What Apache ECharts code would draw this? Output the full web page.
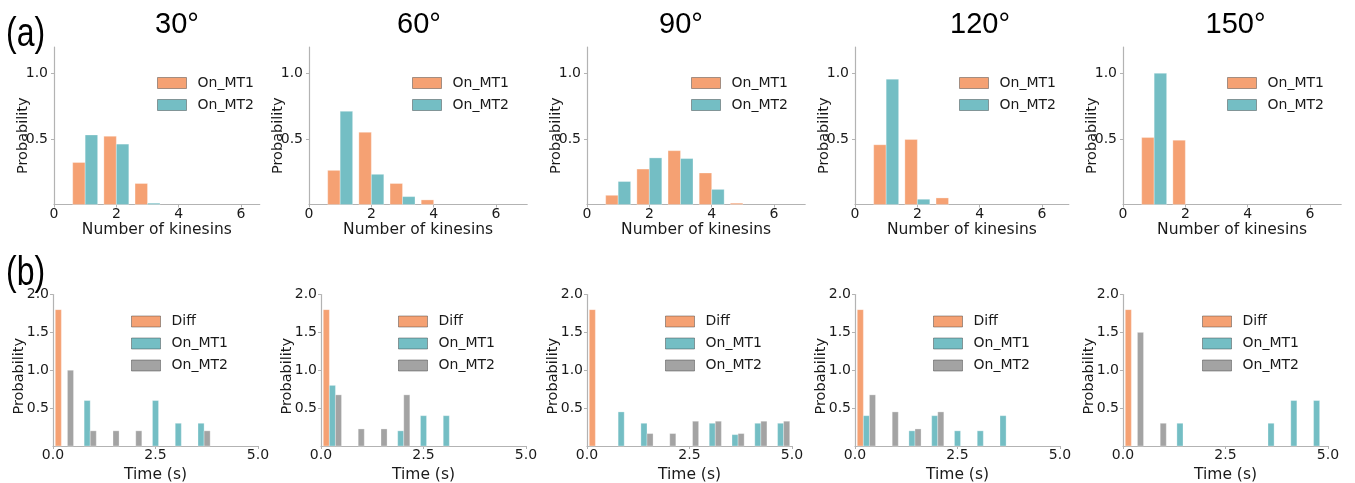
<!DOCTYPE html>
<html><head><meta charset="utf-8">
<script src="https://cdn.jsdelivr.net/npm/echarts@6/dist/echarts.min.js"></script>
<style>html,body{margin:0;padding:0;background:#fff}#c{width:1355px;height:483px}</style>
</head><body><div id="c"></div>
<script>
// ---------------- DATA ----------------
const angleTitles = ['30°', '60°', '90°', '120°', '150°'];
const kinesinCounts = [1, 2, 3, 4, 5, 6];
const kin30_MT1  = [0.32, 0.52, 0.16, 0, 0, 0];
const kin30_MT2  = [0.53, 0.46, 0.01, 0, 0, 0];
const kin60_MT1  = [0.26, 0.55, 0.16, 0.035, 0, 0];
const kin60_MT2  = [0.71, 0.23, 0.06, 0, 0, 0];
const kin90_MT1  = [0.07, 0.27, 0.41, 0.24, 0.01, 0];
const kin90_MT2  = [0.175, 0.355, 0.35, 0.115, 0, 0];
const kin120_MT1 = [0.455, 0.495, 0.05, 0, 0, 0];
const kin120_MT2 = [0.955, 0.04, 0, 0, 0, 0];
const kin150_MT1 = [0.51, 0.49, 0, 0, 0, 0];
const kin150_MT2 = [1.0, 0, 0, 0, 0, 0];

const timeBinEdges = [0, 0.556, 1.111, 1.667, 2.222, 2.778, 3.333, 3.889, 4.444, 5.0];
const t30_Diff  = [1.8, 0, 0, 0, 0, 0, 0, 0, 0];
const t30_MT1   = [0, 0.6, 0, 0, 0.6, 0.3, 0.3, 0, 0];
const t30_MT2   = [1.0, 0.2, 0.2, 0.2, 0, 0, 0.2, 0, 0];
const t60_Diff  = [1.8, 0, 0, 0, 0, 0, 0, 0, 0];
const t60_MT1   = [0.8, 0, 0, 0.2, 0.4, 0.4, 0, 0, 0];
const t60_MT2   = [0.675, 0.225, 0.225, 0.675, 0, 0, 0, 0, 0];
const t90_Diff  = [1.8, 0, 0, 0, 0, 0, 0, 0, 0];
const t90_MT1   = [0, 0.45, 0.3, 0, 0, 0.3, 0.15, 0.3, 0.3];
const t90_MT2   = [0, 0, 0.164, 0.164, 0.327, 0.327, 0.164, 0.327, 0.327];
const t120_Diff = [1.8, 0, 0, 0, 0, 0, 0, 0, 0];
const t120_MT1  = [0.4, 0, 0.2, 0.4, 0.2, 0.2, 0.4, 0, 0];
const t120_MT2  = [0.675, 0.45, 0.225, 0.45, 0, 0, 0, 0, 0];
const t150_Diff = [1.8, 0, 0, 0, 0, 0, 0, 0, 0];
const t150_MT1  = [0, 0, 0.3, 0, 0, 0, 0.3, 0.6, 0.6];
const t150_MT2  = [1.5, 0.3, 0, 0, 0, 0, 0, 0, 0];

const topXTicks = [0, 2, 4, 6];
const topYTicks = [0.5, 1.0];
const botXTicks = [0, 2.5, 5];
const botYTicks = [0.5, 1.0, 1.5, 2.0];

// ---------------- LAYOUT / STYLE ----------------
const C_OR = '#F5A173', C_TE = '#74BEC4', C_GR = '#A3A3A3';
const AX = '#b3b3b3', TXT = '#1a1a1a';
const FONT = 'DejaVu Sans';
const topData = [[kin30_MT1, kin30_MT2], [kin60_MT1, kin60_MT2], [kin90_MT1, kin90_MT2],
                 [kin120_MT1, kin120_MT2], [kin150_MT1, kin150_MT2]];
const botData = [[t30_Diff, t30_MT1, t30_MT2], [t60_Diff, t60_MT1, t60_MT2], [t90_Diff, t90_MT1, t90_MT2],
                 [t120_Diff, t120_MT1, t120_MT2], [t150_Diff, t150_MT1, t150_MT2]];

const topLeft = [54, 309, 587, 855, 1123];
const topXMax = [6.6, 7, 7, 6.86, 7];
const unitPx = 31.17;
const topTop = 47, topH = 157.5;
const botLeft = [53, 321, 587, 855, 1123];
const botW = 205, botTop = 294.5, botH = 151.5;
const titleX = [177, 419, 681, 980, 1235.5];
const topLegL = [157, 412, 691, 959, 1227];
const botLegL = [131, 398, 665, 933, 1202];
const kinBarW = 0.4;      // data units
const histRW = 0.8;       // matplotlib rwidth

function rectRender(color) {
  return function (params, api) {
    const a = api.coord([api.value(0), api.value(2)]);
    const b = api.coord([api.value(1), 0]);
    return { type: 'rect', shape: { x: a[0], y: a[1], width: b[0] - a[0], height: b[1] - a[1] },
      style: { fill: color, stroke: 'rgba(255,255,255,0.6)', lineWidth: 0.5 } };
  };
}

const grid = [], xAxis = [], yAxis = [], series = [], legend = [], graphic = [];

function axisCommon() {
  return {
    axisLine: { show: true, lineStyle: { color: AX, width: 1.2 } },
    splitLine: { show: false }
  };
}
const xNameStyle = { fontFamily: FONT, fontSize: 15.5, color: TXT };

// Top row
for (let i = 0; i < 5; i++) {
  const gi = grid.length;
  grid.push({ left: topLeft[i], top: topTop, width: topXMax[i] * unitPx, height: topH, containLabel: false, outerBoundsMode: 'none' });
  xAxis.push(Object.assign(axisCommon(), {
    type: 'value', gridIndex: gi, min: 0, max: topXMax[i],
    name: 'Number of kinesins', nameLocation: 'middle', nameGap: 14, nameTextStyle: xNameStyle,
    axisLabel: { customValues: topXTicks, margin: 3, fontFamily: FONT, fontSize: 14, color: TXT, formatter: v => String(v) },
    axisTick: { show: true, customValues: topXTicks, length: 3, lineStyle: { color: AX } }
  }));
  yAxis.push(Object.assign(axisCommon(), {
    type: 'value', gridIndex: gi, min: 0, max: 1.2,
    name: 'Probability', nameLocation: 'middle', nameGap: 23.5, nameRotate: 90, nameMoveOverlap: false,
    nameTextStyle: { fontFamily: FONT, fontSize: 14.5, color: TXT, padding: [0, 20, 0, 0] },
    axisLabel: { customValues: topYTicks, margin: 6, fontFamily: FONT, fontSize: 14, color: TXT, formatter: v => v.toFixed(1) },
    axisTick: { show: true, customValues: topYTicks, length: 3, lineStyle: { color: AX } }
  }));
  const [m1, m2] = topData[i];
  const d1 = [], d2 = [];
  kinesinCounts.forEach((k, j) => {
    if (m1[j] > 0) d1.push([k - kinBarW, k, m1[j]]);
    if (m2[j] > 0) d2.push([k, k + kinBarW, m2[j]]);
  });
  series.push({ type: 'custom', name: 'On_MT1', xAxisIndex: gi, yAxisIndex: gi, data: d1, encode: { x: [0, 1], y: 2 },
    itemStyle: { color: C_OR }, renderItem: rectRender(C_OR), silent: true });
  series.push({ type: 'custom', name: 'On_MT2', xAxisIndex: gi, yAxisIndex: gi, data: d2, encode: { x: [0, 1], y: 2 },
    itemStyle: { color: C_TE }, renderItem: rectRender(C_TE), silent: true });
  legend.push({
    orient: 'vertical', left: topLegL[i], top: 76, padding: 0, itemWidth: 29, itemHeight: 11, itemGap: 8,
    icon: 'rect', selectedMode: false,
    itemStyle: { borderColor: 'rgba(60,60,60,0.45)', borderWidth: 1 },
    textStyle: { fontFamily: FONT, fontSize: 14, color: TXT, padding: [0, 0, 0, 6] },
    data: [{ name: 'On_MT1', itemStyle: { color: C_OR } }, { name: 'On_MT2', itemStyle: { color: C_TE } }]
  });
  graphic.push({ type: 'text', x: titleX[i], y: 25, style: { text: angleTitles[i], font: '29px "Liberation Sans"', fill: '#000',
    align: 'center', verticalAlign: 'middle', textAlign: 'center', textVerticalAlign: 'middle' } });
}

// Bottom row
const botColors = [C_OR, C_TE, C_GR];
const botNames = ['Diff', 'On_MT1', 'On_MT2'];
for (let i = 0; i < 5; i++) {
  const gi = grid.length;
  grid.push({ left: botLeft[i], top: botTop, width: botW, height: botH, containLabel: false, outerBoundsMode: 'none' });
  xAxis.push(Object.assign(axisCommon(), {
    type: 'value', gridIndex: gi, min: 0, max: 5,
    name: 'Time (s)', nameLocation: 'middle', nameGap: 21, nameTextStyle: xNameStyle,
    axisLabel: { customValues: botXTicks, margin: 2, fontFamily: FONT, fontSize: 14, color: TXT, formatter: v => v.toFixed(1) },
    axisTick: { show: true, customValues: botXTicks, length: 3, lineStyle: { color: AX } }
  }));
  yAxis.push(Object.assign(axisCommon(), {
    type: 'value', gridIndex: gi, min: 0, max: 2,
    name: 'Probability', nameLocation: 'middle', nameGap: 26, nameRotate: 90, nameMoveOverlap: false,
    nameTextStyle: { fontFamily: FONT, fontSize: 14.5, color: TXT, padding: [0, 12, 0, 0] },
    axisLabel: { customValues: botYTicks, margin: 4, fontFamily: FONT, fontSize: 14, color: TXT, formatter: v => v.toFixed(1) },
    axisTick: { show: true, customValues: botYTicks, length: 3, lineStyle: { color: AX } }
  }));
  botData[i].forEach((vals, s) => {
    const d = [];
    vals.forEach((v, b) => {
      if (v <= 0) return;
      const lo = timeBinEdges[b], hi = timeBinEdges[b + 1];
      const bw = (hi - lo) * histRW / 3;
      const center = (lo + hi) / 2 + (s - 1) * bw;
      d.push([center - bw / 2, center + bw / 2, v]);
    });
    series.push({ type: 'custom', name: botNames[s], xAxisIndex: gi, yAxisIndex: gi, data: d, encode: { x: [0, 1], y: 2 },
      itemStyle: { color: botColors[s] }, renderItem: rectRender(botColors[s]), silent: true });
  });
  legend.push({
    orient: 'vertical', left: botLegL[i], top: 314.5, padding: 0, itemWidth: 29, itemHeight: 11, itemGap: 8,
    icon: 'rect', selectedMode: false,
    itemStyle: { borderColor: 'rgba(60,60,60,0.45)', borderWidth: 1 },
    textStyle: { fontFamily: FONT, fontSize: 14, color: TXT, padding: [0, 0, 0, 6] },
    data: botNames.map((n, s) => ({ name: n, itemStyle: { color: botColors[s] } }))
  });
}

graphic.push({ type: 'text', x: 6, y: 34.5, scaleY: 1.25, style: { text: '(a)', font: '32px "Liberation Sans"', fill: '#000',
  align: 'left', verticalAlign: 'middle', textAlign: 'left', textVerticalAlign: 'middle' } });
graphic.push({ type: 'text', x: 6, y: 274, scaleY: 1.25, style: { text: '(b)', font: '32px "Liberation Sans"', fill: '#000',
  align: 'left', verticalAlign: 'middle', textAlign: 'left', textVerticalAlign: 'middle' } });

const chart = echarts.init(document.getElementById('c'), null, { renderer: 'canvas' });
chart.setOption({ animation: false, backgroundColor: '#fff', grid, xAxis, yAxis, series, legend, graphic });
</script></body></html>
